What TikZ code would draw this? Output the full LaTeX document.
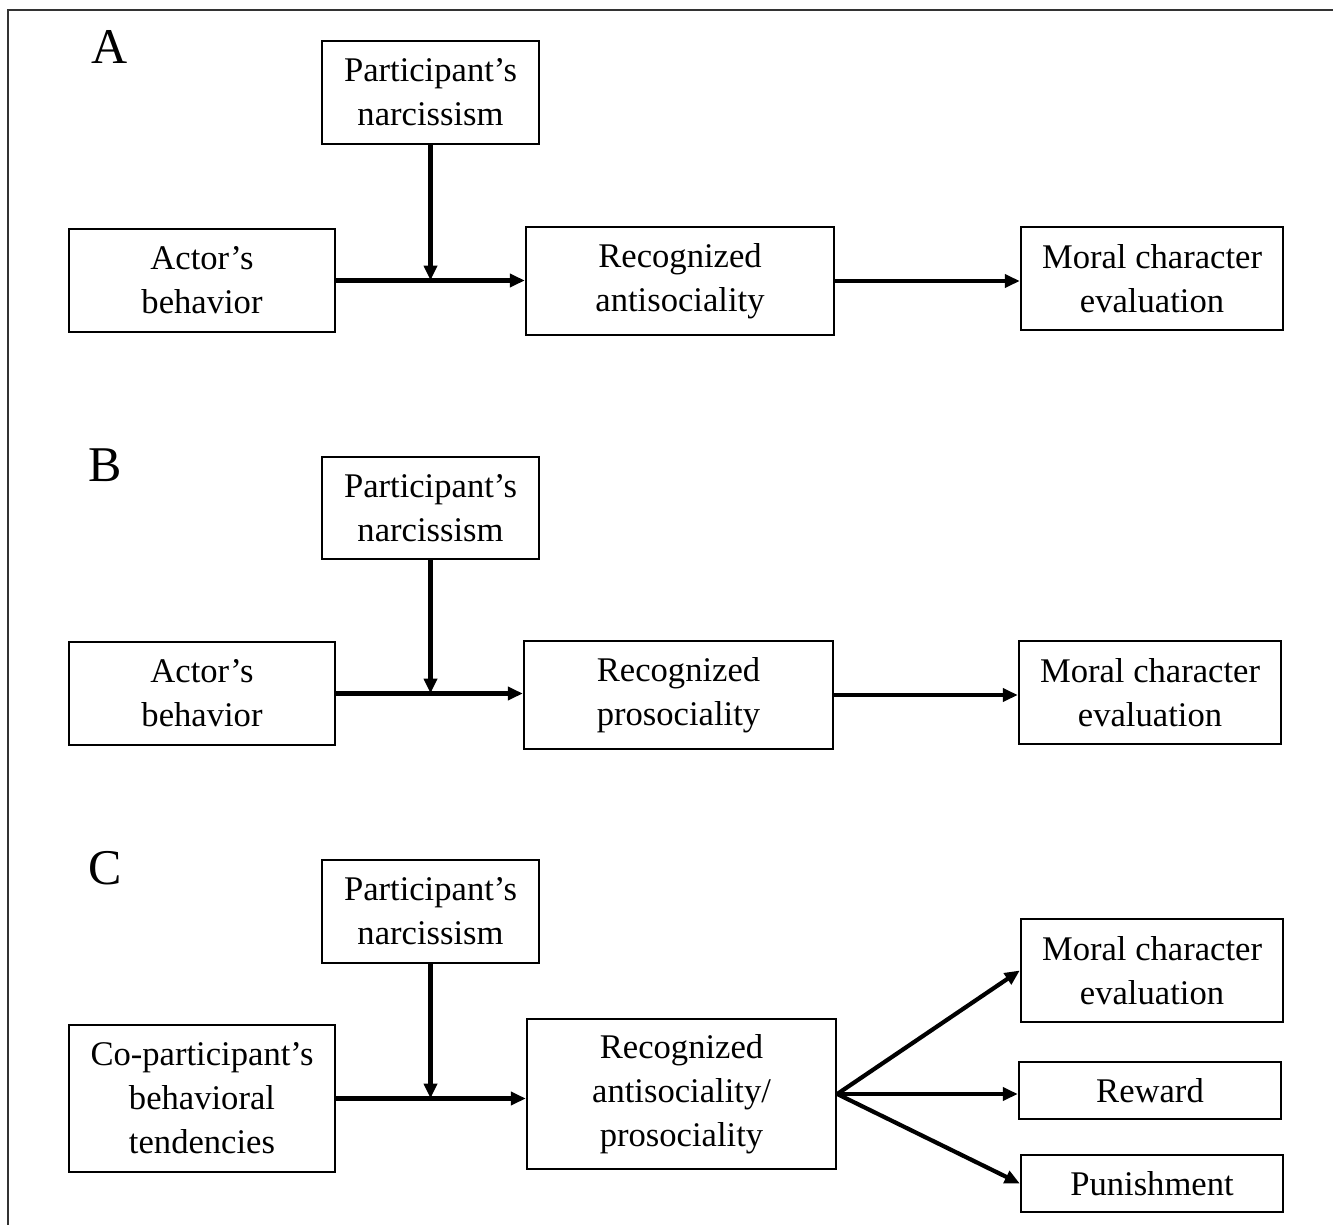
\documentclass[tikz,border=0pt]{standalone}
\usepackage{fontspec}
\setmainfont{Liberation Serif}
\usetikzlibrary{arrows.meta,positioning}

\begin{document}
\begin{tikzpicture}[x=1pt, y=-1pt,
  box/.style={draw, line width=2.4pt, inner sep=0pt, align=center,
    font=\fontsize{34.6}{44}\selectfont},
  conn/.style={line width=4.2pt, -{Triangle[length=15pt,width=13pt]}},
  panel/.style={font=\fontsize{50}{56}\selectfont}]
\useasboundingbox (0,0) rectangle (1333,1225);
\draw [line width=2.4pt, black!80] (8,1225) |- (1333,10);
% panel A
\node [panel] (labA) at (110,47) {A};
\node [box, minimum width=217pt, minimum height=103pt] (narcA) at (430.5,92.5) {Participant's\\narcissism};
\node [box, minimum width=266pt, minimum height=103pt] (actA) at (202,280.5) {Actor's\\behavior};
\node [box, minimum width=308pt, minimum height=108pt] (recA) at (680,281) {Recognized\\antisociality};
\node [box, minimum width=262pt, minimum height=103pt] (morA) at (1152,278.5) {Moral character\\evaluation};
\coordinate (jA) at (narcA.south |- actA.east);
\path [conn]
(actA.east) edge (actA.east -| recA.west)
(narcA) edge (jA)
(recA.east) edge (recA.east -| morA.west);
% panel B
\node [panel] (labB) at (105,465) {B};
\node [box, minimum width=217pt, minimum height=102pt] (narcB) at (430.5,508) {Participant's\\narcissism};
\node [box, minimum width=266pt, minimum height=103pt] (actB) at (202,693.5) {Actor's\\behavior};
\node [box, minimum width=309pt, minimum height=108pt] (recB) at (678.5,695) {Recognized\\prosociality};
\node [box, minimum width=262pt, minimum height=103pt] (morB) at (1150,692.5) {Moral character\\evaluation};
\coordinate (jB) at (narcB.south |- actB.east);
\path [conn]
(actB.east) edge (actB.east -| recB.west)
(narcB) edge (jB)
(recB.east) edge (recB.east -| morB.west);
% panel C
\node [panel] (labC) at (105,868) {C};
\node [box, minimum width=217pt, minimum height=103pt] (narcC) at (430.5,911.5) {Participant's\\narcissism};
\node [box, minimum width=266pt, minimum height=147pt] (actC) at (202,1098.5) {Co-participant's\\behavioral\\tendencies};
\node [box, minimum width=309pt, minimum height=150pt] (recC) at (681.5,1094) {Recognized\\antisociality/\\prosociality};
\node [box, minimum width=262pt, minimum height=103pt] (morC) at (1152,970.5) {Moral character\\evaluation};
\node [box, minimum width=262pt, minimum height=57pt] (rewC) at (1150,1090.5) {Reward};
\node [box, minimum width=262pt, minimum height=57pt] (punC) at (1152,1183.5) {Punishment};
\coordinate (jC) at (narcC.south |- actC.east);
\path [conn]
(actC.east) edge (actC.east -| recC.west)
(narcC) edge (jC)
(recC.east) edge (morC.west)
 edge (recC.east -| rewC.west)
 edge (punC.west);
\end{tikzpicture}
\end{document}
